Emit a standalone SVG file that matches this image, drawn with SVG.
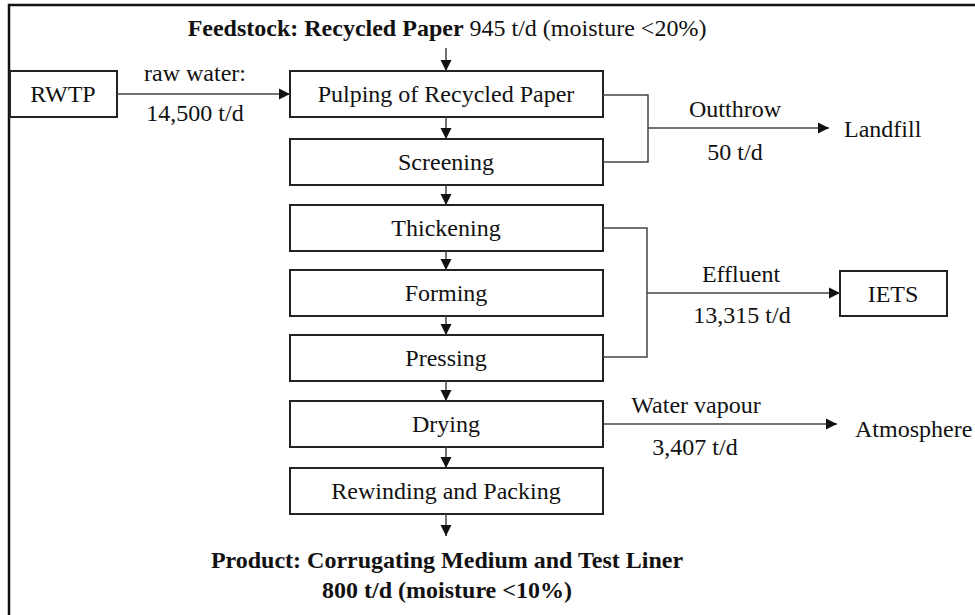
<svg xmlns="http://www.w3.org/2000/svg" width="975" height="615" viewBox="0 0 975 615">
<style>
text{font-family:"Liberation Serif","Times New Roman",serif;font-size:24px;fill:#111}
.b{font-weight:bold}
.box{fill:#fff;stroke:#222;stroke-width:2}
.ln{fill:none;stroke:#444;stroke-width:1.5}
</style>
<defs>
<marker id="ah" markerUnits="userSpaceOnUse" markerWidth="12" markerHeight="12" refX="11" refY="5.5" orient="auto" viewBox="0 0 12 11">
<path d="M0,0 L11,5.5 L0,11 z" fill="#111"/>
</marker>
</defs>
<rect width="975" height="615" fill="#fff"/>
<path d="M9,615 V5 H975" fill="none" stroke="#111" stroke-width="2.5"/>

<g id="feedstock"><text x="447" y="36" text-anchor="middle"><tspan class="b">Feedstock: Recycled Paper</tspan> 945 t/d (moisture &lt;20%)</text></g>

<g id="rwtp"><rect class="box" x="10" y="71" width="107" height="46"/><text x="63" y="102" text-anchor="middle">RWTP</text></g>
<g id="pulping"><rect class="box" x="290" y="71" width="313" height="46"/><text x="446" y="102" text-anchor="middle">Pulping of Recycled Paper</text></g>
<g id="screening"><rect class="box" x="290" y="139" width="313" height="46"/><text x="446" y="170" text-anchor="middle">Screening</text></g>
<g id="thickening"><rect class="box" x="290" y="205" width="313" height="46"/><text x="446" y="236" text-anchor="middle">Thickening</text></g>
<g id="forming"><rect class="box" x="290" y="270" width="313" height="46"/><text x="446" y="301" text-anchor="middle">Forming</text></g>
<g id="pressing"><rect class="box" x="290" y="335" width="313" height="46"/><text x="446" y="366" text-anchor="middle">Pressing</text></g>
<g id="drying"><rect class="box" x="290" y="401" width="313" height="46"/><text x="446" y="432" text-anchor="middle">Drying</text></g>
<g id="rewinding"><rect class="box" x="290" y="468" width="313" height="46"/><text x="446" y="499" text-anchor="middle">Rewinding and Packing</text></g>
<g id="iets"><rect class="box" x="840" y="271" width="107" height="45"/><text x="893" y="302" text-anchor="middle">IETS</text></g>
<g id="landfill"><text x="844" y="137">Landfill</text></g>
<g id="atmosphere"><text x="855" y="437">Atmosphere</text></g>
<g id="product"><text x="447" y="568" text-anchor="middle" class="b">Product: Corrugating Medium and Test Liner</text><text x="447" y="598" text-anchor="middle" class="b">800 t/d (moisture &lt;10%)</text></g>

<g id="connectors">
<path class="ln" marker-end="url(#ah)" d="M446,48 V71"/>
<path class="ln" marker-end="url(#ah)" d="M446,117 V139"/>
<path class="ln" marker-end="url(#ah)" d="M446,185 V205"/>
<path class="ln" marker-end="url(#ah)" d="M446,251 V270"/>
<path class="ln" marker-end="url(#ah)" d="M446,316 V335"/>
<path class="ln" marker-end="url(#ah)" d="M446,381 V401"/>
<path class="ln" marker-end="url(#ah)" d="M446,447 V468"/>
<path class="ln" marker-end="url(#ah)" d="M446,514 V536"/>
<path class="ln" marker-end="url(#ah)" d="M117,94 H290"/>
<path class="ln" d="M603,95 H648 V162 H603"/>
<path class="ln" marker-end="url(#ah)" d="M648,128 H829"/>
<path class="ln" d="M603,228 H647 V357 H603"/>
<path class="ln" marker-end="url(#ah)" d="M647,293 H840"/>
<path class="ln" marker-end="url(#ah)" d="M603,424 H837"/>
<text x="195" y="81" text-anchor="middle">raw water:</text>
<text x="195" y="121" text-anchor="middle">14,500 t/d</text>
<text x="735" y="117" text-anchor="middle">Outthrow</text>
<text x="735" y="160" text-anchor="middle">50 t/d</text>
<text x="741" y="282" text-anchor="middle">Effluent</text>
<text x="742" y="323" text-anchor="middle">13,315 t/d</text>
<text x="696" y="413" text-anchor="middle">Water vapour</text>
<text x="695" y="455" text-anchor="middle">3,407 t/d</text>
</g>
</svg>
